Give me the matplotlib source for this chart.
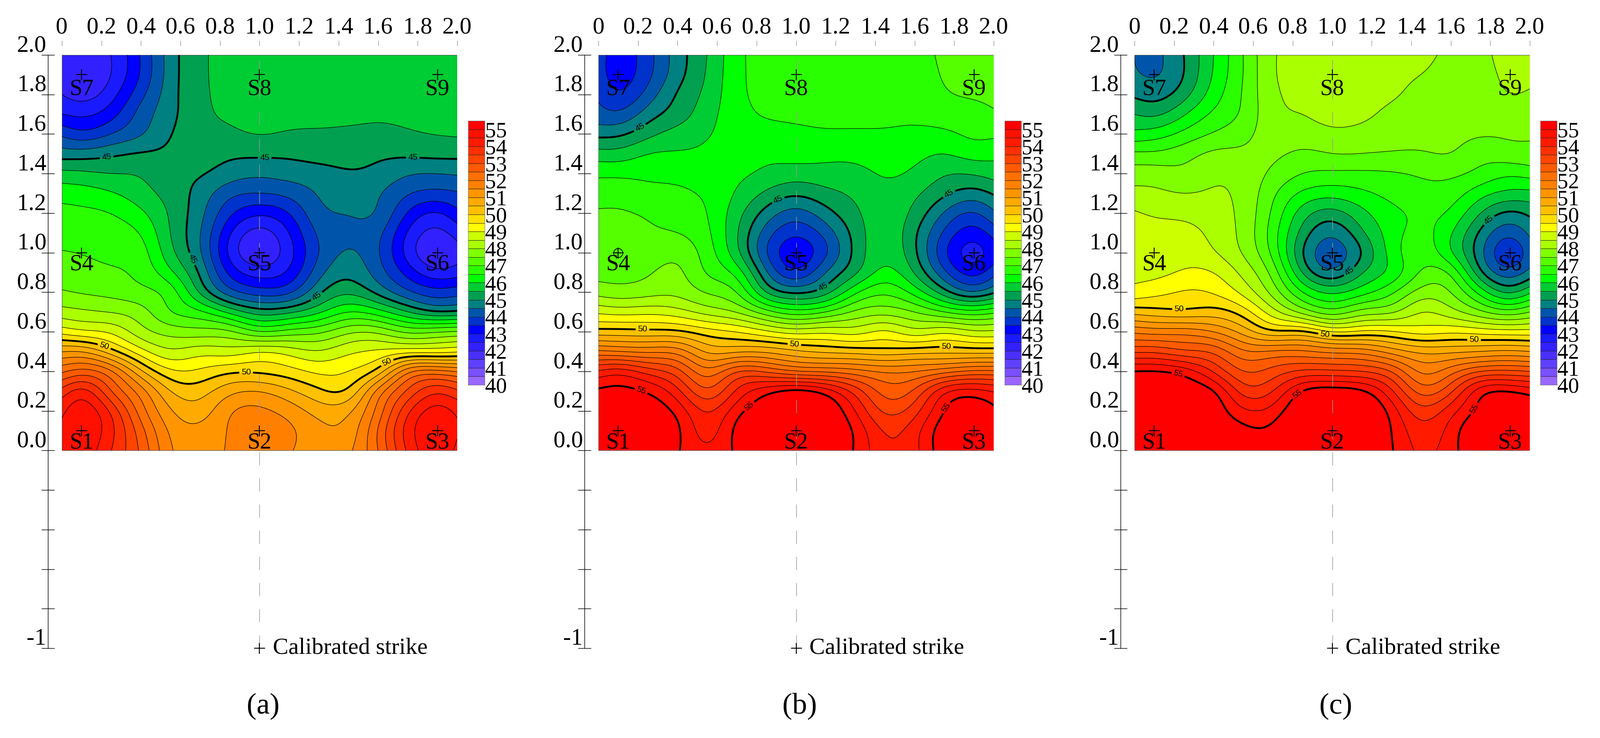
import matplotlib
import numpy as np
from matplotlib.colors import ListedColormap
from matplotlib.patches import Rectangle
from matplotlib.transforms import ScaledTranslation

matplotlib.use("Agg")
import matplotlib.pyplot as plt

plt.rcParams["font.family"] = ["Liberation Serif", "DejaVu Serif"]
plt.rcParams["lines.scale_dashes"] = False

W, H = 3671, 1693

# sample positions of the tables below
GRID_X = [0, 0.1, 0.25, 0.4, 0.55, 0.7, 0.85, 1.0, 1.15, 1.3, 1.45, 1.6, 1.75, 1.9, 2.0]
GRID_Y = [i / 10 for i in range(21)]

# values, one line per GRID_X column, bottom (y=0) to top (y=2)
VALUES_A = [
    [54.6, 54.6, 54.4, 53.7, 52.4, 51.0, 49.3, 48.2, 47.55, 47.2, 47.02, 46.85, 46.65, 46.3, 45.65, 44.75, 43.9, 43.0, 42.5, 42.3, 42.3],
    [54.8, 54.9, 54.8, 54.2, 52.7, 51.0, 49.1, 48.1, 47.45, 47.2, 46.98, 46.8, 46.6, 46.25, 45.6, 44.75, 43.65, 42.9, 42.3, 42.05, 42.2],
    [54.0, 54.15, 53.9, 53.0, 52.1, 50.2, 48.9, 47.97, 47.35, 47.08, 46.85, 46.7, 46.5, 46.05, 45.5, 44.9, 44.0, 43.3, 42.8, 42.5, 42.5],
    [52.9, 52.7, 52.25, 51.75, 50.6, 49.2, 48.2, 47.7, 47.15, 46.85, 46.7, 46.47, 46.1, 45.7, 45.45, 45.05, 44.45, 44.2, 43.85, 43.55, 43.55],
    [51.55, 51.4, 51.05, 50.5, 49.6, 48.6, 47.8, 47.0, 46.75, 46.1, 45.65, 45.48, 45.42, 45.3, 45.15, 45.1, 44.98, 44.85, 44.8, 44.75, 44.75],
    [51.3, 51.15, 50.75, 50.3, 49.6, 48.8, 47.7, 46.6, 45.4, 44.9, 44.55, 44.52, 44.65, 44.8, 45.05, 45.2, 45.35, 45.4, 45.42, 45.43, 45.43],
    [51.55, 51.55, 51.45, 50.85, 49.9, 48.75, 47.6, 45.85, 44.2, 43.35, 42.85, 43.05, 43.6, 44.15, 44.75, 45.1, 45.42, 45.55, 45.6, 45.62, 45.62],
    [51.7, 51.75, 51.6, 51.0, 49.9, 49.0, 47.0, 45.25, 43.75, 42.75, 42.1, 42.3, 43.1, 44.0, 44.6, 45.1, 45.52, 45.7, 45.8, 45.85, 45.85],
    [51.55, 51.6, 51.3, 50.6, 49.7, 48.8, 47.2, 45.4, 43.9, 43.1, 42.8, 43.0, 43.5, 44.15, 44.7, 45.1, 45.45, 45.65, 45.7, 45.75, 45.75],
    [51.2, 51.15, 50.8, 50.1, 49.4, 48.55, 47.4, 45.9, 44.9, 44.3, 44.0, 44.1, 44.35, 44.55, 44.8, 45.2, 45.45, 45.6, 45.65, 45.68, 45.68],
    [51.4, 51.2, 50.9, 50.1, 49.5, 48.9, 47.9, 46.5, 45.4, 44.85, 44.55, 44.4, 44.52, 44.75, 44.95, 45.2, 45.42, 45.6, 45.7, 45.72, 45.72],
    [52.5, 52.55, 52.2, 51.7, 50.2, 49.1, 47.9, 46.2, 44.85, 44.25, 44.05, 44.15, 44.45, 44.55, 44.85, 45.1, 45.4, 45.55, 45.65, 45.7, 45.7],
    [54.1, 54.25, 53.9, 53.1, 51.9, 49.3, 47.4, 45.5, 44.1, 43.3, 42.8, 42.95, 43.45, 44.05, 44.55, 45.1, 45.45, 45.6, 45.7, 45.75, 45.75],
    [54.8, 54.9, 54.7, 53.9, 52.2, 49.3, 47.5, 45.0, 43.7, 42.65, 42.05, 42.35, 42.95, 43.85, 44.5, 45.15, 45.52, 45.7, 45.8, 45.85, 45.85],
    [54.4, 54.55, 54.4, 53.6, 52.0, 49.4, 47.6, 45.05, 43.8, 42.75, 42.35, 42.7, 43.35, 43.95, 44.55, 45.15, 45.55, 45.7, 45.8, 45.8, 45.8],
]
VALUES_B = [
    [55.2, 55.4, 55.3, 55.1, 54.1, 52.1, 50.2, 48.9, 47.8, 47.35, 47.25, 47.2, 47.05, 46.8, 46.4, 45.7, 44.85, 44.2, 43.9, 43.7, 43.7],
    [55.6, 55.7, 55.5, 55.15, 54.3, 52.0, 50.2, 48.8, 47.7, 47.35, 47.25, 47.15, 47.05, 46.8, 46.4, 45.7, 44.9, 44.1, 43.55, 43.3, 43.3],
    [55.5, 55.5, 55.35, 54.95, 53.8, 51.9, 50.15, 48.85, 47.8, 47.45, 47.2, 47.05, 46.95, 46.65, 46.4, 46.0, 45.35, 44.75, 44.2, 43.85, 43.8],
    [55.05, 55.1, 54.85, 54.15, 53.2, 51.8, 50.1, 48.7, 47.85, 47.6, 47.35, 47.0, 46.8, 46.6, 46.35, 46.05, 45.7, 45.25, 45.05, 44.8, 44.75],
    [54.6, 54.3, 53.95, 53.1, 52.2, 50.9, 49.75, 48.3, 47.45, 46.95, 46.75, 46.6, 46.5, 46.4, 46.2, 46.1, 45.95, 45.8, 45.65, 45.55, 45.5],
    [55.1, 55.15, 54.8, 54.1, 53.0, 50.9, 49.5, 47.95, 47.0, 46.3, 45.65, 45.55, 45.7, 45.95, 46.1, 46.2, 46.25, 46.3, 46.35, 46.35, 46.35],
    [55.6, 55.65, 55.4, 54.85, 52.9, 50.9, 49.1, 47.2, 45.45, 44.55, 44.0, 44.25, 44.8, 45.4, 45.9, 46.1, 46.3, 46.55, 46.65, 46.7, 46.7],
    [55.9, 56.0, 55.7, 55.2, 52.5, 50.6, 48.8, 46.7, 44.9, 43.6, 43.15, 43.6, 44.3, 45.1, 45.75, 46.2, 46.4, 46.6, 46.75, 46.8, 46.8],
    [55.5, 55.7, 55.5, 54.8, 52.4, 50.4, 48.9, 47.0, 45.3, 44.5, 43.9, 44.2, 44.8, 45.35, 45.8, 46.15, 46.45, 46.6, 46.7, 46.7, 46.7],
    [54.95, 54.9, 54.5, 53.8, 52.2, 50.3, 48.8, 47.6, 46.4, 45.4, 45.15, 45.2, 45.4, 45.6, 45.85, 46.15, 46.45, 46.6, 46.7, 46.72, 46.72],
    [54.1, 53.95, 53.4, 52.8, 51.95, 50.2, 49.1, 47.8, 46.9, 46.15, 45.85, 45.8, 45.8, 45.85, 46.05, 46.25, 46.45, 46.6, 46.7, 46.75, 46.75],
    [54.35, 54.3, 53.8, 53.1, 52.0, 50.3, 48.7, 47.5, 46.3, 45.45, 45.1, 45.1, 45.35, 45.6, 45.9, 46.15, 46.4, 46.6, 46.7, 46.75, 46.8],
    [55.35, 55.35, 55.0, 54.4, 52.3, 50.35, 48.9, 47.0, 45.2, 44.1, 43.6, 43.9, 44.45, 45.1, 45.55, 46.0, 46.4, 46.75, 46.95, 47.05, 47.1],
    [55.6, 55.65, 55.4, 54.7, 52.6, 50.3, 48.6, 46.7, 44.5, 43.3, 42.8, 43.25, 43.95, 44.8, 45.55, 46.2, 46.6, 46.85, 47.05, 47.2, 47.25],
    [55.25, 55.3, 55.1, 54.5, 52.6, 50.3, 48.6, 46.9, 44.9, 43.8, 43.25, 43.7, 44.4, 45.05, 45.7, 46.15, 46.6, 46.95, 47.1, 47.25, 47.3],
]
VALUES_C = [
    [55.7, 55.8, 55.7, 55.5, 55.05, 53.4, 51.9, 50.3, 49.2, 48.85, 48.75, 48.65, 48.55, 48.15, 47.75, 47.1, 46.15, 45.5, 44.9, 44.55, 44.5],
    [56.0, 56.1, 56.0, 55.7, 55.05, 53.4, 51.8, 50.2, 49.35, 48.85, 48.75, 48.65, 48.45, 48.1, 47.75, 47.1, 46.25, 45.4, 44.8, 44.45, 44.4],
    [55.8, 55.9, 55.7, 55.4, 54.8, 53.1, 51.8, 50.1, 49.55, 49.05, 48.85, 48.7, 48.35, 48.0, 47.65, 47.3, 46.65, 45.95, 45.3, 45.0, 45.0],
    [55.6, 55.5, 55.35, 55.05, 53.95, 52.9, 51.5, 50.2, 49.45, 49.0, 48.55, 48.35, 48.2, 48.05, 47.9, 47.6, 47.05, 46.6, 46.25, 46.05, 46.0],
    [55.3, 55.15, 54.6, 53.8, 53.0, 52.1, 50.8, 49.75, 48.85, 48.35, 47.95, 47.85, 47.85, 47.85, 47.8, 47.6, 47.35, 47.1, 47.05, 47.0, 47.0],
    [55.4, 55.15, 54.7, 54.0, 53.2, 52.1, 50.1, 48.7, 47.8, 47.3, 46.85, 46.75, 46.9, 47.1, 47.4, 47.6, 47.75, 47.85, 47.9, 47.95, 47.95],
    [55.9, 56.0, 55.6, 55.05, 53.6, 52.1, 50.1, 47.8, 46.5, 45.45, 45.0, 45.3, 45.75, 46.4, 47.0, 47.4, 47.8, 48.0, 48.1, 48.15, 48.15],
    [56.2, 56.3, 56.0, 55.3, 53.6, 51.9, 49.5, 47.2, 45.9, 44.6, 44.2, 44.6, 45.3, 46.2, 46.9, 47.5, 47.9, 48.15, 48.25, 48.3, 48.3],
    [55.7, 55.8, 55.7, 55.1, 53.5, 51.8, 49.6, 47.7, 46.3, 45.45, 45.0, 45.4, 45.85, 46.4, 46.9, 47.5, 47.85, 48.1, 48.2, 48.25, 48.25],
    [55.05, 55.0, 54.8, 54.1, 53.0, 51.3, 49.55, 47.9, 46.9, 46.15, 46.2, 46.25, 46.35, 46.65, 46.95, 47.45, 47.75, 47.9, 48.05, 48.1, 48.1],
    [54.4, 54.2, 53.7, 52.8, 51.9, 50.9, 49.3, 48.5, 47.7, 47.05, 46.8, 46.65, 46.6, 46.85, 47.05, 47.45, 47.7, 47.85, 47.9, 48.0, 48.1],
    [54.8, 54.7, 54.3, 53.4, 52.3, 50.9, 49.4, 48.2, 47.5, 46.9, 46.05, 46.05, 46.4, 46.75, 47.1, 47.5, 47.65, 47.75, 47.8, 47.85, 47.9],
    [55.6, 55.7, 55.2, 54.8, 53.0, 51.0, 49.3, 47.6, 46.3, 45.1, 44.65, 44.9, 45.5, 46.2, 46.85, 47.2, 47.55, 47.7, 47.75, 47.85, 47.9],
    [56.0, 56.1, 55.8, 55.0, 53.1, 51.1, 49.2, 47.2, 45.4, 44.2, 43.6, 44.15, 44.9, 45.85, 46.6, 47.3, 47.55, 47.7, 48.0, 48.1, 48.15],
    [55.6, 55.65, 55.5, 54.8, 53.0, 51.0, 49.2, 47.5, 45.9, 44.65, 44.25, 44.6, 45.1, 45.85, 46.7, 47.35, 47.55, 47.75, 47.95, 48.1, 48.15],
]

STRIKE_X = [0.1, 1.0, 1.9, 0.1, 1.0, 1.9, 0.1, 1.0, 1.9]
STRIKE_Y = [0.1, 0.1, 0.1, 1.0, 1.0, 1.0, 1.9, 1.9, 1.9]
STRIKE_NAMES = ["S1", "S2", "S3", "S4", "S5", "S6", "S7", "S8", "S9"]

# 0.5 steps from 40 to 55, the last band is everything above 55
LEVELS = [40 + 0.5 * i for i in range(31)] + [60]
BAND_COLORS = [
    "#9966ff", "#7a50ff", "#6040ff", "#4a30ff", "#3320ff", "#1a1aff", "#0000ff",
    "#0033cc", "#0055aa", "#008080", "#00a050", "#00cc33", "#00ff00", "#2aff00",
    "#55ff00", "#80ff00", "#aaff00", "#ccff00", "#ffff00", "#ffe000", "#ffc000",
    "#ffaa00", "#ff9500", "#ff8000", "#ff7000", "#ff5a00", "#ff4400", "#ff3000",
    "#ff1a00", "#ff1000", "#ff0000",
]
BAR_TICKS = list(range(40, 56))
TOP_TICKS = [i / 5 for i in range(11)]
TOP_LABELS = ["0", "0.2", "0.4", "0.6", "0.8", "1.0", "1.2", "1.4", "1.6", "1.8", "2.0"]
LEFT_TICKS = [-1 + i / 5 for i in range(16)]
LEFT_LABELS = ["-1", "", "", "", "", "0.0", "0.2", "0.4", "0.6", "0.8", "1.0", "1.2", "1.4", "1.6", "1.8", "2.0"]

PANELS = [
    {
        "values": VALUES_A, "left": 142, "bar": 1074, "name": "(a)",
        "labels": [(0.227, 1.474), (1.026, 1.47), (1.775, 1.473), (0.657, 0.967), (1.283, 0.788),
                   (0.211, 0.517), (0.932, 0.381), (1.659, 0.418)],
    },
    {
        "values": VALUES_B, "left": 1373, "bar": 2305, "name": "(b)",
        "labels": [(0.223, 1.61), (0.91, 1.265), (1.133, 0.832), (1.777, 1.291),
                   (0.223, 0.613), (0.992, 0.548), (1.76, 0.522),
                   (0.219, 0.31), (0.77, 0.215), (1.769, 0.21)],
    },
    {
        "values": VALUES_C, "left": 2603, "bar": 3534, "name": "(c)",
        "labels": [(1.095, 0.896), (1.79, 1.167),
                   (0.225, 0.72), (0.963, 0.582), (1.718, 0.56),
                   (0.221, 0.385), (0.826, 0.282), (1.717, 0.212)],
    },
]


def spline_weights(knots, fine):
    # natural cubic spline as a matrix, fine values = matrix @ knot values
    knots = np.asarray(knots, dtype=float)
    n = len(knots)
    h = np.diff(knots)
    a = np.zeros((n, n))
    b = np.zeros((n, n))
    a[0, 0] = a[-1, -1] = 1
    for i in range(1, n - 1):
        a[i, i - 1] = h[i - 1]
        a[i, i] = 2 * (h[i - 1] + h[i])
        a[i, i + 1] = h[i]
        b[i, i - 1] = 6 / h[i - 1]
        b[i, i] = -6 / h[i - 1] - 6 / h[i]
        b[i, i + 1] = 6 / h[i]
    second = np.linalg.solve(a, b)
    idx = np.clip(np.searchsorted(knots, fine) - 1, 0, n - 2)
    t1 = (knots[idx + 1] - fine) / h[idx]
    t0 = (fine - knots[idx]) / h[idx]
    out = np.zeros((len(fine), n))
    rows = np.arange(len(fine))
    out[rows, idx] = t1
    out[rows, idx + 1] = t0
    out += ((t1**3 - t1) * h[idx] ** 2 / 6)[:, None] * second[idx]
    out += ((t0**3 - t0) * h[idx] ** 2 / 6)[:, None] * second[idx + 1]
    return out


def soften(field, width=5):
    # small blur, the read values are only good to about 0.1
    kernel = np.exp(-0.5 * (np.arange(-3 * width, 3 * width + 1) / width) ** 2)
    kernel /= kernel.sum()
    for axis in (0, 1):
        pad = [(0, 0), (0, 0)]
        pad[axis] = (3 * width, 3 * width)
        wide = np.pad(field, pad, mode="reflect", reflect_type="odd")
        field = np.apply_along_axis(np.convolve, axis, wide, kernel, mode="valid")
    return field


def draw_panel(fig, panel):
    # axes run from y=-1 to y=2 so the left scale and dashed line share them
    ax = fig.add_axes([panel["left"] / W, (H - 1487) / H, 907 / W, 1361 / H])
    ax.set_xlim(0, 2)
    ax.set_ylim(-1, 2)

    fine_x = np.linspace(0, 2, 401)
    fine_y = np.linspace(0, 2, 401)
    z = spline_weights(GRID_X, fine_x) @ np.array(panel["values"]) @ spline_weights(GRID_Y, fine_y).T
    z = soften(z).T

    ax.contourf(fine_x, fine_y, z, levels=LEVELS, colors=BAND_COLORS)
    thin = [v for v in LEVELS[:-1] if v not in (45, 50, 55)]
    ax.contour(fine_x, fine_y, z, levels=thin, colors="black", linewidths=0.8)
    cs = ax.contour(fine_x, fine_y, z, levels=[45, 50, 55], colors="black", linewidths=3)
    texts = ax.clabel(cs, fmt="%d", fontsize=14, manual=panel["labels"], inline=True, inline_spacing=6)
    for t in texts:
        t.set_family("Liberation Sans")

    ax.add_patch(Rectangle((0, 0), 2, 2, fill=False, edgecolor="#555555", linewidth=0.8))
    ax.plot([1, 1], [-1, 2], color="#999999", linewidth=1, linestyle=(0, (21.6, 21.6)), zorder=5)

    ax.plot(STRIKE_X, STRIKE_Y, "+", color="black", markersize=18, markeredgewidth=1.5, zorder=6)
    for x, y, name in zip(STRIKE_X, STRIKE_Y, STRIKE_NAMES):
        shift = 0.06 if y < 1.5 else 0.072
        ax.text(x, y - shift, name, fontsize=38, ha="center", va="center", zorder=6)
    if panel["name"] == "(b)":
        ax.plot([0.1], [1.0], "o", mfc="none", mec="black", markersize=15, markeredgewidth=1.2, zorder=6)

    ax.plot([1], [-1], "+", color="black", markersize=18, markeredgewidth=1.5, clip_on=False, zorder=6)
    ax.text(1.067, -1, "Calibrated strike", fontsize=38.5, ha="left", va="center")
    ax.text(1.019, -1.294, panel["name"], fontsize=49, ha="center", va="center")

    for side in ["right", "bottom", "top"]:
        ax.spines[side].set_visible(False)
    ax.spines["top"].set_position(("outward", 15))
    ax.spines["left"].set_position(("outward", 23))
    ax.spines["left"].set_bounds(-1, 2)
    ax.spines["left"].set_linewidth(1.0)

    ax.xaxis.tick_top()
    ax.set_xticks(TOP_TICKS, TOP_LABELS)
    ax.tick_params(axis="x", length=8.6, width=0.8, color="#888888", pad=3.5, labelsize=39)
    ax.set_yticks(LEFT_TICKS, LEFT_LABELS)
    ax.tick_params(axis="y", direction="inout", length=22.3, width=1.0, pad=-8.5, labelsize=39)
    shift_down = ScaledTranslation(0, -3 / 72, fig.dpi_scale_trans)
    for label in ax.get_yticklabels():
        label.set_verticalalignment("bottom")
        label.set_transform(label.get_transform() + shift_down)


def draw_bar(fig, left):
    ax = fig.add_axes([left / W, (H - 883) / H, 38 / W, 606 / H])
    edges = np.array(LEVELS[:-1] + [55.5])
    ax.pcolormesh([0, 1], edges, np.arange(31).reshape(-1, 1), cmap=ListedColormap(BAND_COLORS), vmin=0, vmax=30)
    ax.hlines(edges[1:-1], 0, 1, color="#222222", linewidth=0.7)
    ax.set_xlim(0, 1)
    ax.set_ylim(40, 55.5)
    ax.set_xticks([])
    ax.yaxis.tick_right()
    ax.set_yticks(BAR_TICKS, [str(v) for v in BAR_TICKS])
    ax.tick_params(axis="y", length=0, pad=1, labelsize=36)
    for spine in ax.spines.values():
        spine.set_color("#777777")
        spine.set_linewidth(0.7)


def main():
    fig = plt.figure(figsize=(W / 100, H / 100), dpi=100)
    for panel in PANELS:
        draw_panel(fig, panel)
        draw_bar(fig, panel["bar"])
    fig.savefig("out.png", dpi=100)


if __name__ == "__main__":
    main()
